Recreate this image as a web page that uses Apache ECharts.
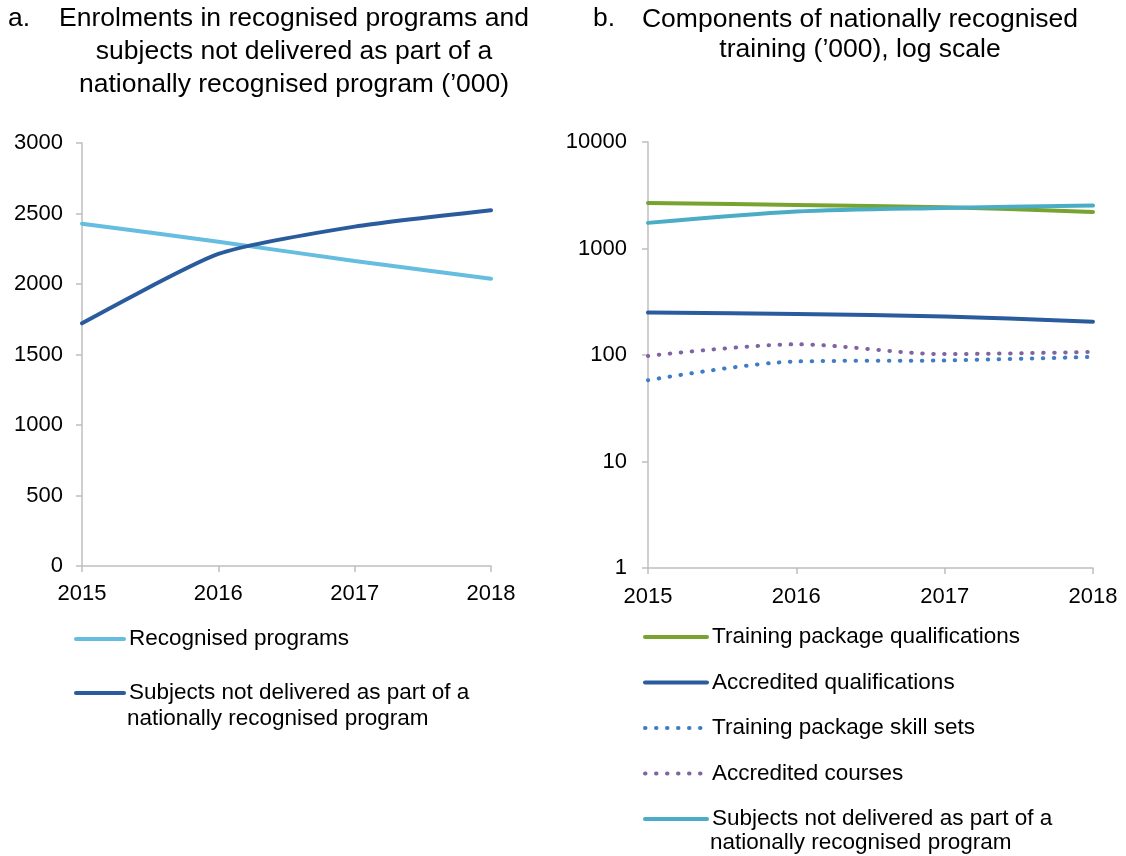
<!DOCTYPE html>
<html><head><meta charset="utf-8">
<script src="https://cdn.jsdelivr.net/npm/echarts@6/dist/echarts.min.js"></script>
<style>html,body{margin:0;padding:0;background:#fff}#c{width:1126px;height:856px}</style>
</head><body><div id="c"></div>
<script>
const years = ['2015', '2016', '2017', '2018'];
// Panel a ('000)
const recognisedPrograms = [2428, 2300, 2163, 2038];
const subjectsNotDelivered = [1721, 2213, 2407, 2523];
// Panel b ('000, log scale)
const trainingPackageQuals = [2680, 2564, 2440, 2207];
const accreditedQuals = [250, 243, 230, 205];
const trainingPackageSkillSets = [58, 87, 89, 96];
const accreditedCourses = [98, 126, 102, 107];
const subjectsNotDeliveredB = [1740, 2222, 2405, 2529];
const leftTicks = [0, 500, 1000, 1500, 2000, 2500, 3000];
const rightTicks = [1, 10, 100, 1000, 10000];

const FONT = "'Liberation Sans', Arial, sans-serif";
const SUBJ_A = 'Subjects not delivered as part of a';
const SUBJ_B = 'Subjects not delivered as part of a ';
const TITLE_FS = 26.5, TICK_FS = 22, LEG_FS = 22.5;

const chart = echarts.init(document.getElementById('c'));
const axisLine = {show: true, lineStyle: {color: '#BFBFBF', width: 1.5}};
const axisTick = {show: true, length: 6, lineStyle: {color: '#BFBFBF', width: 1.5}};
const lab = (m) => ({color: '#000', fontSize: TICK_FS, fontFamily: FONT, margin: m, formatter: (v) => String(v)});
const titleStyle = (lh) => ({fontSize: TITLE_FS, fontWeight: 'normal', color: '#000', fontFamily: FONT, lineHeight: lh});
const legText = {fontSize: LEG_FS, color: '#000', fontFamily: FONT, lineHeight: 26};

chart.setOption({
  animation: false,
  textStyle: {fontFamily: FONT},
  title: [
    {text: 'a.', left: 8, top: 4, padding: 0, textStyle: titleStyle(30)},
    {text: 'Enrolments in recognised programs and\nsubjects not delivered as part of a\nnationally recognised program (\u2019000)',
     left: 294, top: 2, padding: 0, textAlign: 'center', textStyle: titleStyle(33)},
    {text: 'b.', left: 593, top: 4, padding: 0, textStyle: titleStyle(30)},
    {text: 'Components of nationally recognised\ntraining (\u2019000), log scale',
     left: 860, top: 4, padding: 0, textAlign: 'center', textStyle: titleStyle(30.5)}
  ],
  grid: [
    {left: 82, right: 635, top: 143, bottom: 290, containLabel: false},
    {left: 648, right: 33, top: 142, bottom: 288, containLabel: false}
  ],
  xAxis: [
    {type: 'category', gridIndex: 0, data: years, boundaryGap: false, axisLine, axisTick, axisLabel: lab(17), splitLine: {show: false}},
    {type: 'category', gridIndex: 1, data: years, boundaryGap: false, axisLine, axisTick, axisLabel: lab(18), splitLine: {show: false}}
  ],
  yAxis: [
    {type: 'value', gridIndex: 0, min: leftTicks[0], max: leftTicks[leftTicks.length - 1], interval: 500, axisLine, axisTick, axisLabel: lab(19), splitLine: {show: false}},
    {type: 'log', gridIndex: 1, logBase: 10, min: rightTicks[0], max: rightTicks[rightTicks.length - 1], axisLine, axisTick, axisLabel: lab(21), splitLine: {show: false}, minorTick: {show: false}}
  ],
  legend: [
    {orient: 'vertical', left: 74, top: 626, padding: 0, itemWidth: 48, itemHeight: 14, itemGap: 28,
     data: ['Recognised programs', SUBJ_A], itemStyle: {opacity: 0}, lineStyle: {width: 4, cap: 'round'},
     textStyle: legText, selectedMode: false},
    {orient: 'vertical', left: 643, top: 624, padding: 0, itemWidth: 62, itemHeight: 14, itemGap: 19.5,
     data: ['Training package qualifications', 'Accredited qualifications', 'Training package skill sets', 'Accredited courses', SUBJ_B],
     itemStyle: {opacity: 0}, lineStyle: {width: 4, cap: 'round'},
     textStyle: legText, selectedMode: false}
  ],
  graphic: [
    {type: 'text', left: 127, top: 707, style: {text: 'nationally recognised program', fontSize: LEG_FS, fill: '#000', fontFamily: FONT}},
    {type: 'text', left: 710, top: 831, style: {text: 'nationally recognised program', fontSize: LEG_FS, fill: '#000', fontFamily: FONT}}
  ],
  series: [
    {name: 'Recognised programs', type: 'line', xAxisIndex: 0, yAxisIndex: 0, data: recognisedPrograms, symbol: 'none', smooth: 0.2,
     lineStyle: {color: '#65BDE0', width: 4, cap: 'round'}, itemStyle: {color: '#65BDE0'}},
    {name: SUBJ_A, type: 'line', xAxisIndex: 0, yAxisIndex: 0, data: subjectsNotDelivered, symbol: 'none', smooth: 0.2,
     lineStyle: {color: '#2A5C9D', width: 4, cap: 'round'}, itemStyle: {color: '#2A5C9D'}},
    {name: 'Training package qualifications', type: 'line', xAxisIndex: 1, yAxisIndex: 1, data: trainingPackageQuals, symbol: 'none', smooth: 0.3,
     lineStyle: {color: '#77A32F', width: 4, cap: 'round'}, itemStyle: {color: '#77A32F'}},
    {name: 'Accredited qualifications', type: 'line', xAxisIndex: 1, yAxisIndex: 1, data: accreditedQuals, symbol: 'none', smooth: 0.3,
     lineStyle: {color: '#2A5C9D', width: 4, cap: 'round'}, itemStyle: {color: '#2A5C9D'}},
    {name: 'Training package skill sets', type: 'line', xAxisIndex: 1, yAxisIndex: 1, data: trainingPackageSkillSets, symbol: 'none', smooth: 0.3,
     lineStyle: {color: '#3E7DC5', width: 4, cap: 'round', type: [0.5, 10.5]}, itemStyle: {color: '#3E7DC5'}},
    {name: 'Accredited courses', type: 'line', xAxisIndex: 1, yAxisIndex: 1, data: accreditedCourses, symbol: 'none', smooth: 0.3,
     lineStyle: {color: '#8064A2', width: 4, cap: 'round', type: [0.5, 10.5]}, itemStyle: {color: '#8064A2'}},
    {name: SUBJ_B, type: 'line', xAxisIndex: 1, yAxisIndex: 1, data: subjectsNotDeliveredB, symbol: 'none', smooth: 0.3,
     lineStyle: {color: '#4BACC6', width: 4, cap: 'round'}, itemStyle: {color: '#4BACC6'}}
  ]
});
</script></body></html>
